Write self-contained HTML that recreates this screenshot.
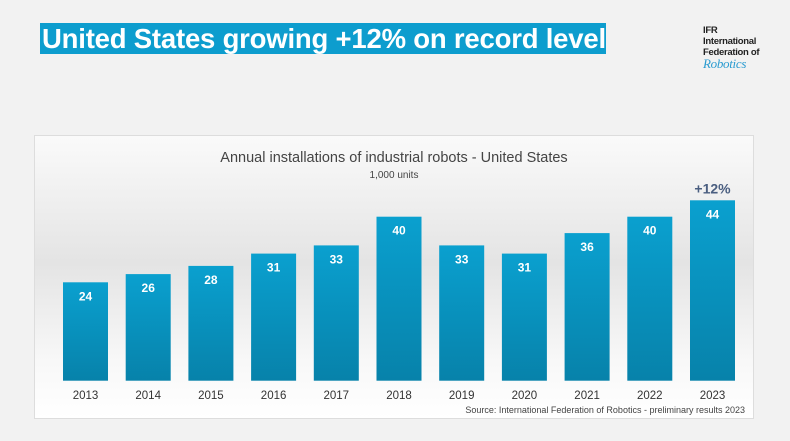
<!DOCTYPE html>
<html><head><meta charset="utf-8"><style>
body{margin:0;width:790px;height:441px;background:#f2f2f2;font-family:"Liberation Sans",sans-serif;overflow:hidden;position:relative}
#title{position:absolute;left:40px;top:23px;width:566px;height:31px;background:#0d9dce;color:#fff;font-weight:bold;font-size:27.5px;line-height:31px;padding-left:2px;letter-spacing:-0.2px;box-sizing:border-box;white-space:nowrap}
#logo{position:absolute;left:703px;top:25px;font-size:9.5px;line-height:11px;color:#222;font-weight:bold;letter-spacing:-0.3px}
#panel{position:absolute;left:34px;top:135px;width:720px;height:284px;background:linear-gradient(#fafafa 0%,#e4e4e4 45%,#f8f8f8 80%,#fff 100%);border:1px solid #ddd;box-sizing:border-box}
svg{position:absolute;left:0;top:0}
</style></head><body>
<div id="title">United States growing +12% on record level</div>
<div id="logo">IFR<br>International<br>Federation of<br><span style="color:#2a9bd0;font-style:italic;font-weight:normal;font-size:13px;font-family:'Liberation Serif',serif">Robotics</span></div>
<div id="panel"></div>
<svg width="790" height="441" id="chart">
<defs><linearGradient id="g" x1="0" y1="0" x2="0" y2="1"><stop offset="0" stop-color="#0aa0cf"/><stop offset="1" stop-color="#0782aa"/></linearGradient></defs>
<text x="394" y="162" text-anchor="middle" font-size="14.5" fill="#444">Annual installations of industrial robots - United States</text>
<text x="394" y="178" text-anchor="middle" font-size="10" fill="#444">1,000 units</text>
<text x="745" y="413" text-anchor="end" font-size="9" fill="#444">Source: International Federation of Robotics - preliminary results 2023</text>
</svg>
<script>
const categories=["2013","2014","2015","2016","2017","2018","2019","2020","2021","2022","2023"];
const values=[24,26,28,31,33,40,33,31,36,40,44];
const svg=document.getElementById('chart');
const NS="http://www.w3.org/2000/svg";
const base=380.7, scale=4.1, x0=63, pitch=62.7, bw=45;
function xPos(i){return x0+i*pitch;}
function yPos(v){return base-v*scale;}
function mk(t,a){const e=document.createElementNS(NS,t);for(const k in a)e.setAttribute(k,a[k]);svg.appendChild(e);return e;}
categories.forEach((c,i)=>{
  const x=xPos(i),y=yPos(values[i]);
  const r=mk('rect',{x:x,y:y,width:bw,height:base-y,fill:'url(#g)'});
  
  
  const v=mk('text',{x:x+bw/2,y:y+18,'text-anchor':'middle','font-size':12,'font-weight':'bold',fill:'#fff'});
  v.textContent=values[i];
  
  
  const l=mk('text',{x:x+bw/2,y:399,'text-anchor':'middle','font-size':11.5,fill:'#333'});
  l.textContent=c;
  
  
});
const last=categories.length-1;
const p=mk('text',{x:xPos(last)+bw/2,y:yPos(values[last])-7,'text-anchor':'middle','font-size':14,'font-weight':'bold',fill:'#4a5e80'});
p.textContent='+12%';


</script>
</body></html>
